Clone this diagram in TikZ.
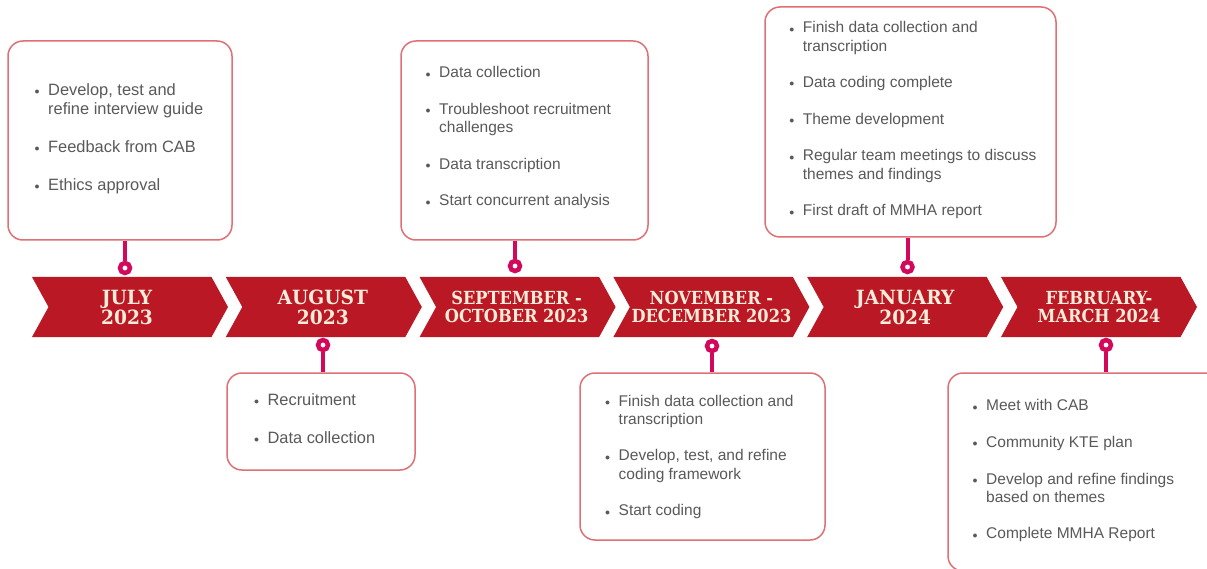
\documentclass[tikz,border=0pt]{standalone}
\usepackage{fontspec}
\setmainfont{Liberation Sans}
\newfontfamily\slabfont{DejaVu Serif}[FakeStretch=0.9]
\newfontfamily\slabwide{DejaVu Serif}[FakeStretch=0.95]
\usepackage{tikz}

\definecolor{chevred}{RGB}{186,24,36}
\definecolor{chevtext}{RGB}{253,236,218}
\definecolor{linkred}{RGB}{212,8,90}
\definecolor{boxline}{RGB}{222,112,118}
\definecolor{textgray}{RGB}{89,89,89}

% bullet and hanging indent for the task lists
\newcommand{\bitem}{\makebox[12.5pt][l]{\hspace{-1pt}\raisebox{0.8pt}{\fontsize{10}{10}\selectfont$\bullet$}}}
\newcommand{\bcont}{\hspace*{12.5pt}}

\begin{document}
\begin{tikzpicture}
		[
			x=1pt, y=-1pt,
			chev/.style = {fill=chevred},
			mlabel/.style = {align=center, text=chevtext, font=\slabfont\bfseries\fontsize{18}{18}\selectfont},
			mbig/.style = {mlabel, font=\slabwide\bfseries\fontsize{19.6}{20}\selectfont},
			box/.style = {rectangle, rounded corners=15pt, draw=boxline, line width=1.5pt, fill=none},
			btext/.style = {anchor=north west, align=left, inner sep=0pt, text=textgray, font=\fontsize{15.5}{18.3}\selectfont},
			bbig/.style = {btext, font=\fontsize{16.4}{19}\selectfont},
			dot/.style = {circle, draw=linkred, line width=4.5pt, fill=white, minimum size=10pt, inner sep=0pt},
			link/.style = {draw=linkred, line width=4pt},
		]

		\useasboundingbox (0,0) rectangle (1207,569);
		\fill[white] (0,0) rectangle (1207,569);
		\clip (0,0) rectangle (1207,569);

		% month chevrons
		\foreach \x in {32,225.8,419.6,613.4,807.2,1001}
		\fill[chev] (\x,277) -- ++(179.5,0) -- ++(16.5,30) -- ++(-16.5,30) -- ++(-179.5,0) -- ++(16.5,-30) -- cycle;

		\node[mbig]   (mjul) at (127.0, 307) {JULY\\2023};
		\node[mbig]   (maug) at (322.8, 307) {AUGUST\\2023};
		\node[mlabel] (msep) at (516.6, 307) {SEPTEMBER -\\OCTOBER 2023};
		\node[mlabel] (mnov) at (711.4, 307) {NOVEMBER -\\DECEMBER 2023};
		\node[mbig]   (mjan) at (905.2, 307) {JANUARY\\2024};
		\node[mlabel] (mfeb) at (1099.0, 307) {FEBRUARY-\\MARCH 2024};

		% task boxes
		\node[box, minimum width=224pt, minimum height=199pt] (bjul) at ( 120.0, 140.5) {};
		\node[box, minimum width=247pt, minimum height=199pt] (bsep) at ( 524.5, 140.5) {};
		\node[box, minimum width=291pt, minimum height=230pt] (bjan) at ( 910.5, 122.0) {};
		\node[box, minimum width=188pt, minimum height=97pt]  (baug) at ( 321.0, 421.5) {};
		\node[box, minimum width=245pt, minimum height=167pt] (bnov) at ( 702.5, 456.5) {};
		\node[box, minimum width=282pt, minimum height=198pt] (bfeb) at (1089.0, 472.0) {};

		\node[bbig] (tjul) at (35.5, 83.3) {\bitem Develop, test and\\\bcont refine interview guide\\[19pt]\bitem Feedback from CAB\\[19pt]\bitem Ethics approval};
		\node[btext] (tsep) at (426.5, 66.4) {\bitem Data collection\\[18.3pt]\bitem Troubleshoot recruitment\\\bcont challenges\\[18.3pt]\bitem Data transcription\\[18.3pt]\bitem Start concurrent analysis};
		\node[btext] (tjan) at (790.2, 21.4) {\bitem Finish data collection and\\\bcont transcription\\[18.3pt]\bitem Data coding complete\\[18.3pt]\bitem Theme development\\[18.3pt]\bitem Regular team meetings to discuss\\\bcont themes and findings\\[18.3pt]\bitem First draft of MMHA report};
		\node[bbig] (taug) at (254.9, 393.3) {\bitem Recruitment\\[19pt]\bitem Data collection};
		\node[btext] (tnov) at (606.0, 394.6) {\bitem Finish data collection and\\\bcont transcription\\[18.3pt]\bitem Develop, test, and refine\\\bcont coding framework\\[18.3pt]\bitem Start coding};
		\node[btext] (tfeb) at (973.5, 399.4) {\bitem Meet with CAB\\[18.3pt]\bitem Community KTE plan\\[18.3pt]\bitem Develop and refine findings\\\bcont based on themes\\[18.3pt]\bitem Complete MMHA Report};

		% milestone rings
		\node[dot] (cjul) at ( 125.0, 268) {};
		\node[dot] (csep) at ( 515.0, 266) {};
		\node[dot] (cjan) at ( 907.5, 267) {};
		\node[dot] (caug) at ( 323.0, 345) {};
		\node[dot] (cnov) at ( 712.0, 346) {};
		\node[dot] (cfeb) at (1106.0, 345) {};

		\foreach \from/\to/\side in {bjul/cjul/south,bsep/csep/south,bjan/cjan/south,baug/caug/north,bnov/cnov/north,bfeb/cfeb/north}
		\draw[link] (\to |- \from.\side) -- (\to);

		\end{tikzpicture}
\end{document}
